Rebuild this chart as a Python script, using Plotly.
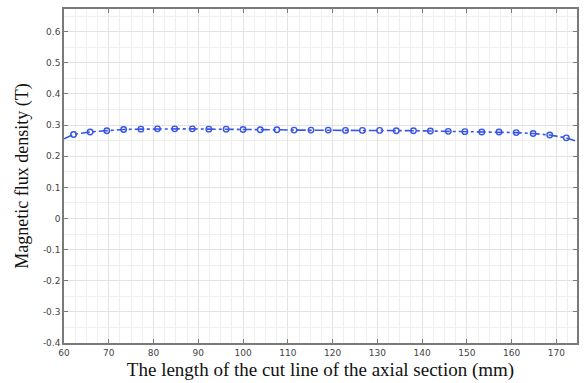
import plotly.graph_objects as go

# marker points (mm, T)
x_pts = [62.13, 65.84, 69.56, 73.33, 77.18, 80.89, 84.73, 88.67, 92.36, 96.22,
         100.0, 103.84, 107.56, 111.4, 115.18, 119.02, 122.89, 126.67, 130.51, 134.22,
         138.07, 141.84, 145.84, 149.56, 153.33, 157.18, 161.02, 164.8, 168.51, 172.22]
y_pts = [0.270, 0.278, 0.282, 0.286, 0.287, 0.288, 0.288, 0.288, 0.287, 0.287,
         0.286, 0.285, 0.285, 0.284, 0.284, 0.284, 0.283, 0.283, 0.283, 0.282,
         0.282, 0.281, 0.280, 0.279, 0.278, 0.278, 0.276, 0.273, 0.268, 0.259]
# curve end points
x_start, y_start = 60.0, 0.256
x_end, y_end = 174.6, 0.248

y_ticks = [-0.4, -0.3, -0.2, -0.1, 0, 0.1, 0.2, 0.3, 0.4, 0.5, 0.6]
y_ticktext = ["-0.4", "-0.3", "-0.2", "-0.1", "0", "0.1", "0.2", "0.3", "0.4", "0.5", "0.6"]
x_ticks = [60, 70, 80, 90, 100, 110, 120, 130, 140, 150, 160, 170]

blue = "rgb(55,85,230)"

fig = go.Figure()
fig.add_trace(go.Scatter(
    x=[x_start] + x_pts + [x_end], y=[y_start] + y_pts + [y_end],
    mode="lines", line=dict(color=blue, width=1.6, dash="dashdot"),
    showlegend=False, hoverinfo="skip"))
fig.add_trace(go.Scatter(
    x=x_pts, y=y_pts, mode="markers",
    marker=dict(symbol="circle-open", size=5.5, color=blue, line=dict(width=1.4, color=blue)),
    showlegend=False))

axis_common = dict(
    showline=True, linecolor="#7a7a7a", linewidth=1.5, mirror="ticks",
    ticks="inside", ticklen=4, tickcolor="#7a7a7a", tickwidth=1,
    showgrid=True, gridcolor="#e3e3e3", gridwidth=1, zeroline=False,
    tickfont=dict(family="DejaVu Sans", size=9, color="#444444"),
)

fig.update_layout(
    width=585, height=383,
    margin=dict(l=64, r=6, t=9, b=39),
    paper_bgcolor="white", plot_bgcolor="white",
    xaxis=dict(range=[60.0, 174.6], tickvals=x_ticks,
               minor=dict(dtick=2.5, tick0=60, showgrid=True, gridcolor="#eeeeee", ticks=""),
               title=dict(text="The length of the cut line of the axial section (mm)",
                          font=dict(family="Liberation Serif", size=19, color="#111111"),
                          standoff=6),
               **axis_common),
    yaxis=dict(range=[-0.4, 0.673], tickvals=y_ticks, ticktext=y_ticktext,
               minor=dict(dtick=0.05, tick0=0, showgrid=True, gridcolor="#eeeeee", ticks=""),
               title=dict(text="Magnetic flux density (T)",
                          font=dict(family="Liberation Serif", size=18, color="#111111"),
                          standoff=10),
               **axis_common),
)

fig.write_html("out.html")
